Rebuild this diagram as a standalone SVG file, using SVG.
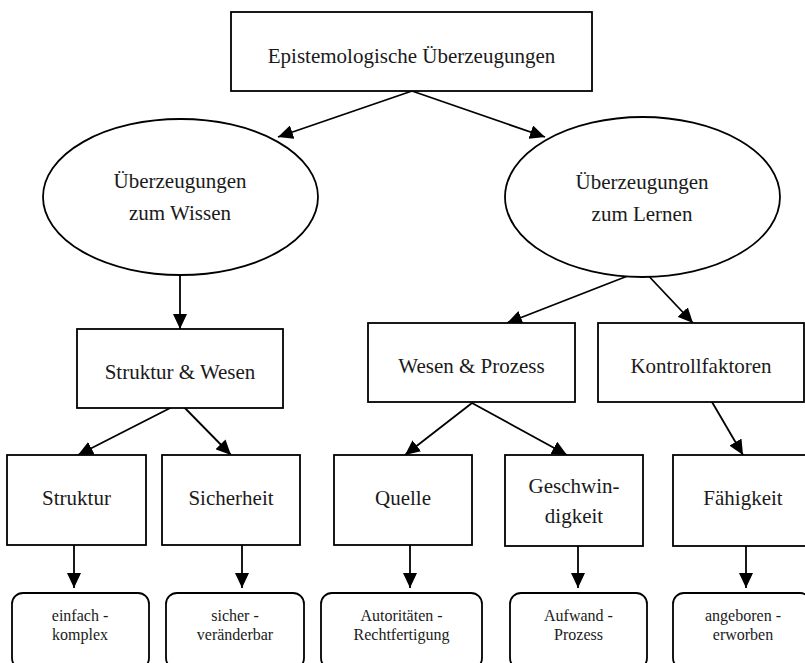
<svg xmlns="http://www.w3.org/2000/svg" width="805" height="663" viewBox="0 0 805 663">
<defs>
<style>
.box{fill:#fff;stroke:#000;stroke-width:1.8}
.rbox{fill:#fff;stroke:#000;stroke-width:1.8}
.t{font-family:"Liberation Serif","Times New Roman",serif;font-size:21px;fill:#1a1a1a;text-anchor:middle}
.s{font-family:"Liberation Serif","Times New Roman",serif;font-size:16px;fill:#1a1a1a;text-anchor:middle}
.c{stroke:#000;stroke-width:1.8;fill:none;marker-end:url(#ah)}
</style>
<marker id="ah" markerUnits="userSpaceOnUse" markerWidth="16" markerHeight="14" refX="15" refY="7" orient="auto">
<path d="M0,0 L15,7 L0,14 z" fill="#000"/>
</marker>
</defs>
<rect width="805" height="663" fill="#fff"/>
<g id="connectors">
<line class="c" x1="412" y1="91" x2="278" y2="137"/>
<line class="c" x1="412" y1="91" x2="545" y2="137"/>
<line class="c" x1="180" y1="275" x2="180" y2="329"/>
<line class="c" x1="643" y1="270" x2="507" y2="323"/>
<line class="c" x1="643" y1="270" x2="693" y2="323"/>
<line class="c" x1="180" y1="403" x2="78" y2="455"/>
<line class="c" x1="180" y1="403" x2="231" y2="455"/>
<line class="c" x1="472" y1="403" x2="405" y2="455"/>
<line class="c" x1="472" y1="403" x2="567" y2="455"/>
<line class="c" x1="712" y1="402" x2="743" y2="455"/>
<line class="c" x1="74" y1="545" x2="74" y2="588"/>
<line class="c" x1="242" y1="545" x2="242" y2="588"/>
<line class="c" x1="410" y1="545" x2="410" y2="588"/>
<line class="c" x1="578" y1="546" x2="578" y2="588"/>
<line class="c" x1="746" y1="546" x2="746" y2="588"/>
</g>
<g id="n-epistemologische">
<rect class="box" x="231" y="12" width="361" height="79"/>
<text class="t" x="411.5" y="63">Epistemologische Überzeugungen</text>
</g>
<g id="n-wissen">
<ellipse class="box" cx="180.5" cy="197" rx="137.5" ry="78"/>
<text class="t" x="180" y="188">Überzeugungen</text>
<text class="t" x="180" y="220">zum Wissen</text>
</g>
<g id="n-lernen">
<ellipse class="box" cx="642.5" cy="197" rx="137.5" ry="80"/>
<text class="t" x="642" y="189">Überzeugungen</text>
<text class="t" x="642" y="221">zum Lernen</text>
</g>
<g id="n-struktur-wesen">
<rect class="box" x="77" y="329" width="206" height="79"/>
<text class="t" x="180" y="379">Struktur &amp; Wesen</text>
</g>
<g id="n-wesen-prozess">
<rect class="box" x="368" y="323" width="207" height="79"/>
<text class="t" x="471.5" y="373">Wesen &amp; Prozess</text>
</g>
<g id="n-kontrollfaktoren">
<rect class="box" x="598" y="323" width="206" height="79"/>
<text class="t" x="701" y="373">Kontrollfaktoren</text>
</g>
<g id="n-struktur">
<rect class="box" x="7" y="455" width="139" height="90"/>
<text class="t" x="76.5" y="505">Struktur</text>
</g>
<g id="n-sicherheit">
<rect class="box" x="162" y="455" width="138" height="90"/>
<text class="t" x="231" y="505">Sicherheit</text>
</g>
<g id="n-quelle">
<rect class="box" x="334" y="455" width="138" height="90"/>
<text class="t" x="403" y="505">Quelle</text>
</g>
<g id="n-geschwindigkeit">
<rect class="box" x="505" y="455" width="138" height="91"/>
<text class="t" x="574" y="493">Geschwin-</text>
<text class="t" x="574" y="523">digkeit</text>
</g>
<g id="n-faehigkeit">
<rect class="box" x="673" y="455" width="138" height="91"/>
<text class="t" x="743" y="505">Fähigkeit</text>
</g>
<g id="n-einfach">
<rect class="rbox" x="12" y="593" width="137" height="76" rx="11"/>
<text class="s" x="80" y="621">einfach -</text>
<text class="s" x="80" y="640">komplex</text>
</g>
<g id="n-sicher">
<rect class="rbox" x="166" y="593" width="138" height="76" rx="11"/>
<text class="s" x="235" y="621">sicher -</text>
<text class="s" x="235" y="640">veränderbar</text>
</g>
<g id="n-autoritaeten">
<rect class="rbox" x="321" y="593" width="161" height="76" rx="11"/>
<text class="s" x="401.5" y="621">Autoritäten -</text>
<text class="s" x="401.5" y="640">Rechtfertigung</text>
</g>
<g id="n-aufwand">
<rect class="rbox" x="510" y="593" width="137" height="76" rx="11"/>
<text class="s" x="578.5" y="621">Aufwand -</text>
<text class="s" x="578.5" y="640">Prozess</text>
</g>
<g id="n-angeboren">
<rect class="rbox" x="673" y="593" width="138" height="76" rx="11"/>
<text class="s" x="743" y="621">angeboren -</text>
<text class="s" x="743" y="640">erworben</text>
</g>
</svg>
